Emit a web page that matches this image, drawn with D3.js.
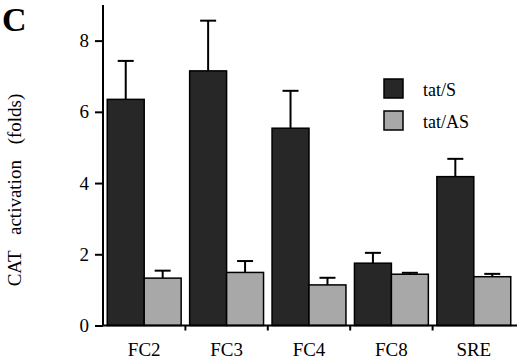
<!DOCTYPE html>
<html>
<head>
<meta charset="utf-8">
<script src="https://cdn.jsdelivr.net/npm/d3@7"></script>
<style>
  body{margin:0;background:#fff;}
  svg text{font-family:"Liberation Serif","DejaVu Serif",serif;fill:#000;}
</style>
</head>
<body>
<svg id="chart" width="520" height="359"></svg>
<script>
const categories=["FC2","FC3","FC4","FC8","SRE"];
const series=["tat/S","tat/AS"];
const sMean=[6.35,7.15,5.54,1.75,4.18];
const sErr=[1.08,1.41,1.05,0.29,0.5];
const asMean=[1.33,1.49,1.14,1.44,1.37];
const asErr=[0.21,0.32,0.2,0.04,0.08];
const yTicks=[0,2,4,6,8];
const colors=["#272727","#a8a8a8"];
const serif="'Liberation Serif','DejaVu Serif',serif";

const svg=d3.select("#chart");
const x0=103, x1=515, yBase=325.5, yTop=5;

const x=d3.scaleBand().domain(categories).range([x0,x1]).paddingInner(0).paddingOuter(0);
const xs=d3.scaleBand().domain(series).range([0,x.bandwidth()]).paddingInner(0).paddingOuter(0.115);
const y=d3.scaleLinear().domain([0,9]).range([yBase,yTop]);

const rows=categories.map((c,i)=>[
  {c,s:series[0],v:sMean[i],e:sErr[i]},
  {c,s:series[1],v:asMean[i],e:asErr[i]}
]).flat();

// error bars (drawn under bars)
const eb=svg.append("g").attr("stroke","#000").attr("stroke-width",2);
rows.forEach(d=>{
  const cx=x(d.c)+xs(d.s)+xs.bandwidth()/2;
  eb.append("line").attr("x1",cx).attr("x2",cx).attr("y1",y(d.v)).attr("y2",y(d.v+d.e));
  eb.append("line").attr("x1",cx-8).attr("x2",cx+8).attr("y1",y(d.v+d.e)).attr("y2",y(d.v+d.e));
});

svg.append("g")
  .selectAll("rect")
  .data(rows)
  .join("rect")
  .attr("x",d=>x(d.c)+xs(d.s))
  .attr("y",d=>y(d.v))
  .attr("width",xs.bandwidth())
  .attr("height",d=>yBase-y(d.v))
  .attr("fill",d=>colors[series.indexOf(d.s)])
  .attr("stroke","#000")
  .attr("stroke-width",1.5);

// y axis
const ya=svg.append("g").attr("transform",`translate(${x0},0)`)
  .call(d3.axisLeft(y).tickValues(yTicks).tickSize(8).tickPadding(6).tickFormat(d3.format("d")))
  .attr("font-family",serif).attr("font-size",19);
ya.select(".domain").attr("d",`M0,${yTop}V${yBase}`).attr("stroke-width",2);
ya.selectAll(".tick line").attr("stroke-width",2);

// x axis
const xa=svg.append("g").attr("transform",`translate(0,${yBase})`)
  .call(d3.axisBottom(x).tickSize(0).tickPadding(17))
  .attr("font-family",serif).attr("font-size",19);
xa.select(".domain").attr("d",`M${x0},0H${x1+2}`).attr("stroke-width",2);
xa.append("g").selectAll("line")
  .data(categories.slice(1))
  .join("line")
  .attr("x1",d=>x(d)).attr("x2",d=>x(d))
  .attr("y1",0).attr("y2",5)
  .attr("stroke","#000").attr("stroke-width",2);

// y label
svg.append("text")
  .attr("transform","translate(21,190) rotate(-90)")
  .attr("text-anchor","middle")
  .attr("font-size",19)
  .attr("word-spacing",11)
  .text("CAT activation (folds)");

// panel letter
svg.append("text")
  .attr("x",2).attr("y",31)
  .attr("font-size",34)
  .attr("font-weight","bold")
  .text("C");

// legend
const lg=svg.append("g").attr("transform","translate(384,79)");
series.forEach((s,i)=>{
  lg.append("rect").attr("x",0).attr("y",i*32).attr("width",19).attr("height",19)
    .attr("fill",colors[i]).attr("stroke","#000").attr("stroke-width",1.5);
  lg.append("text").attr("x",39).attr("y",i*32+17).attr("font-size",18).text(s);
});
</script>
</body>
</html>
